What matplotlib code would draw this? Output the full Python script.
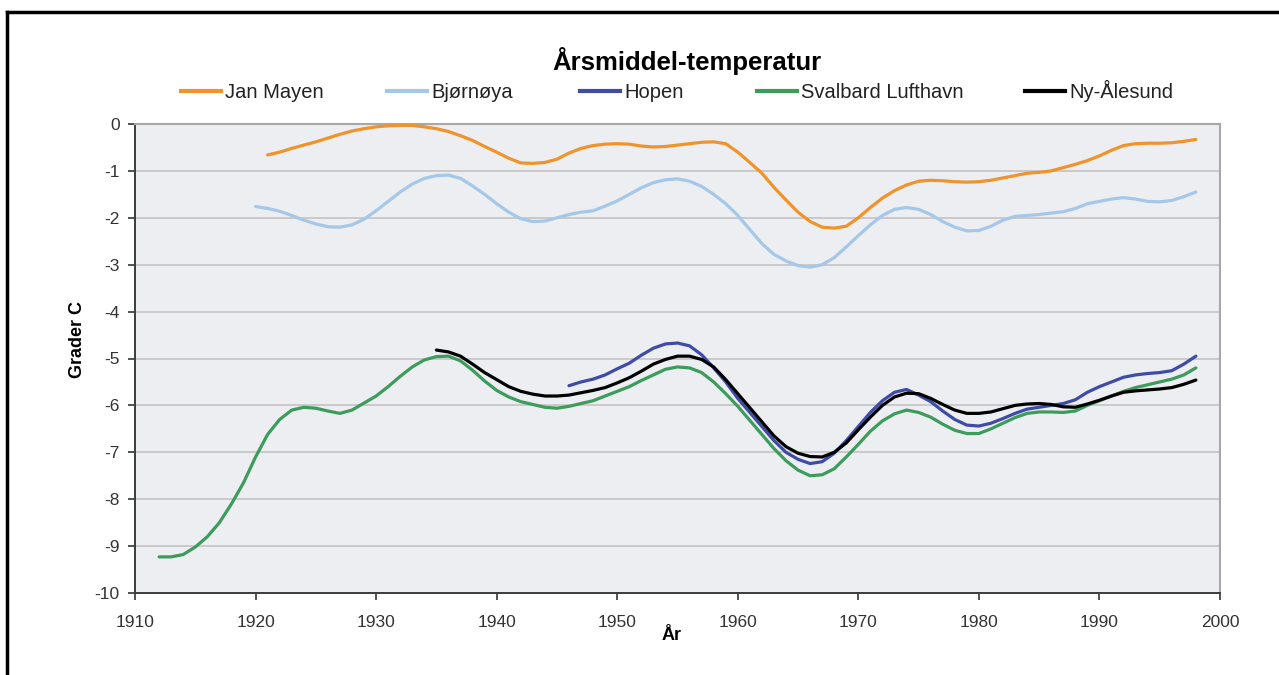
import matplotlib
matplotlib.use("Agg")
import matplotlib.pyplot as plt
from matplotlib.lines import Line2D

plt.rcParams['font.family'] = ['Liberation Sans', 'DejaVu Sans']

title = "Årsmiddel-temperatur"
xlabel = "År"
ylabel = "Grader C"
series_names = ["Jan Mayen", "Bjørnøya", "Hopen", "Svalbard Lufthavn", "Ny-Ålesund"]

jan_mayen_years = list(range(1921, 1999))
jan_mayen = [-0.66, -0.60, -0.52, -0.45, -0.38, -0.30, -0.22, -0.15, -0.10, -0.06,
             -0.04, -0.03, -0.03, -0.06, -0.10, -0.16, -0.25, -0.35, -0.48, -0.60,
             -0.73, -0.83, -0.84, -0.82, -0.75, -0.62, -0.52, -0.46, -0.43, -0.42,
             -0.43, -0.47, -0.49, -0.48, -0.45, -0.42, -0.39, -0.38, -0.42, -0.60,
             -0.82, -1.05, -1.35, -1.62, -1.88, -2.08, -2.20, -2.22, -2.18, -2.00,
             -1.78, -1.58, -1.42, -1.30, -1.22, -1.20, -1.21, -1.23, -1.24, -1.23,
             -1.20, -1.15, -1.10, -1.05, -1.03, -1.00, -0.93, -0.86, -0.78, -0.68,
             -0.56, -0.46, -0.42, -0.41, -0.41, -0.40, -0.37, -0.33]

bjornoya_years = list(range(1920, 1999))
bjornoya = [-1.76, -1.80, -1.86, -1.95, -2.05, -2.13, -2.19, -2.20, -2.15, -2.03,
            -1.85, -1.65, -1.45, -1.28, -1.16, -1.10, -1.09, -1.16, -1.32, -1.50,
            -1.70, -1.88, -2.02, -2.08, -2.07, -2.00, -1.93, -1.88, -1.85, -1.75,
            -1.64, -1.50, -1.36, -1.25, -1.19, -1.17, -1.22, -1.33, -1.50, -1.70,
            -1.95, -2.25, -2.55, -2.78, -2.92, -3.02, -3.05, -3.00, -2.85, -2.62,
            -2.38, -2.15, -1.95, -1.82, -1.78, -1.82, -1.93, -2.08, -2.20, -2.28,
            -2.27, -2.18, -2.05, -1.97, -1.95, -1.93, -1.90, -1.87, -1.80, -1.70,
            -1.65, -1.60, -1.57, -1.60, -1.65, -1.66, -1.63, -1.55, -1.45]

hopen_years = list(range(1946, 1999))
hopen = [-5.58, -5.50, -5.44, -5.35, -5.22, -5.10, -4.93, -4.78, -4.69, -4.67,
         -4.73, -4.92, -5.20, -5.50, -5.85, -6.15, -6.45, -6.75, -7.00, -7.15,
         -7.24, -7.20, -7.02, -6.75, -6.45, -6.15, -5.90, -5.72, -5.66, -5.78,
         -5.92, -6.12, -6.30, -6.42, -6.44, -6.38, -6.28, -6.17, -6.08, -6.04,
         -6.00, -5.96, -5.88, -5.72, -5.60, -5.50, -5.40, -5.35, -5.32, -5.30,
         -5.26, -5.12, -4.95]

svalbard_years = list(range(1912, 1999))
svalbard = [-9.23, -9.23, -9.18, -9.02, -8.80, -8.50, -8.10, -7.65, -7.10, -6.62,
            -6.30, -6.10, -6.04, -6.06, -6.12, -6.17, -6.10, -5.95, -5.80, -5.60,
            -5.38, -5.18, -5.03, -4.96, -4.95, -5.05, -5.25, -5.48, -5.68, -5.82,
            -5.92, -5.98, -6.04, -6.06, -6.02, -5.96, -5.90, -5.80, -5.70, -5.60,
            -5.47, -5.35, -5.23, -5.18, -5.20, -5.30, -5.50, -5.75, -6.02, -6.32,
            -6.62, -6.92, -7.18, -7.38, -7.50, -7.48, -7.35, -7.10, -6.83, -6.55,
            -6.33, -6.18, -6.10, -6.15, -6.25, -6.40, -6.53, -6.60, -6.60, -6.50,
            -6.38, -6.26, -6.17, -6.14, -6.14, -6.15, -6.12, -6.00, -5.90, -5.80,
            -5.70, -5.62, -5.56, -5.50, -5.44, -5.35, -5.20]

ny_alesund_years = list(range(1935, 1999))
ny_alesund = [-4.82, -4.86, -4.95, -5.12, -5.30, -5.45, -5.60, -5.70, -5.76, -5.80,
              -5.80, -5.78, -5.73, -5.68, -5.62, -5.52, -5.41, -5.27, -5.12, -5.02,
              -4.95, -4.95, -5.02, -5.18, -5.45, -5.75, -6.05, -6.35, -6.65, -6.88,
              -7.02, -7.09, -7.10, -7.00, -6.80, -6.52, -6.25, -6.00, -5.82, -5.74,
              -5.75, -5.85, -5.98, -6.10, -6.17, -6.17, -6.14, -6.07, -6.00, -5.97,
              -5.96, -5.98, -6.03, -6.04, -5.97, -5.89, -5.80, -5.72, -5.69, -5.67,
              -5.65, -5.62, -5.55, -5.46]

x_ticks = [1910, 1920, 1930, 1940, 1950, 1960, 1970, 1980, 1990, 2000]
y_ticks = [0, -1, -2, -3, -4, -5, -6, -7, -8, -9, -10]

colors = ["#f0932b", "#a5c8e8", "#3f4ca6", "#3d9b5c", "#000000"]

W, H = 1279, 675
fig = plt.figure(figsize=(W / 100, H / 100), dpi=100)
fig.patch.set_facecolor("white")

ax_l, ax_r, ax_t, ax_b = 135, 1220, 124, 593
ax = fig.add_axes([ax_l / W, 1 - ax_b / H, (ax_r - ax_l) / W, (ax_b - ax_t) / H])
ax.set_facecolor("#eceef1")

data = [(jan_mayen_years, jan_mayen), (bjornoya_years, bjornoya),
        (hopen_years, hopen), (svalbard_years, svalbard),
        (ny_alesund_years, ny_alesund)]
lines = []
for (xs, ys), c, name in zip(data, colors, series_names):
    ln, = ax.plot(xs, ys, color=c, lw=2.3, solid_capstyle="round", label=name, zorder=3)
    lines.append(ln)

ax.set_xlim(1910, 2000)
ax.set_ylim(-10, 0)
ax.set_xticks(x_ticks)
ax.set_yticks(y_ticks)
ax.set_xticklabels([str(t) for t in x_ticks])
ax.set_yticklabels([str(t) for t in y_ticks])
ax.tick_params(axis="both", labelsize=12.5, colors="#333333", length=5, width=1.2,
               direction="out")
ax.tick_params(axis="x", pad=11)
ax.tick_params(axis="y", pad=6)
ax.grid(axis="y", color="#c9c6c6", lw=1.3, zorder=1)
ax.set_axisbelow(True)
for side in ["left", "bottom"]:
    ax.spines[side].set_color("#3c3c3c")
    ax.spines[side].set_linewidth(1.4)
ax.spines["top"].set_color("#a8a8a8")
ax.spines["top"].set_linewidth(1.5)
ax.spines["right"].set_color("#a8a8a8")
ax.spines["right"].set_linewidth(1.5)

fig.text(687 / W, 1 - 61 / H, title, ha="center", va="center",
         fontsize=18.5, fontweight="bold")
fig.text(672 / W, 1 - 636 / H, xlabel, ha="center", va="center",
         fontsize=13, fontweight="bold")
fig.text(77 / W, 1 - 340 / H, ylabel, ha="center", va="center",
         fontsize=13, fontweight="bold", rotation=90)

legend_x = [181, 387, 580, 757, 1025]
legend_y = [93, 93, 93, 93, 91]
for ln, name, lx, ly in zip(lines, series_names, legend_x, legend_y):
    leg = fig.legend([Line2D([], [], color=ln.get_color(), lw=3)], [name],
                     loc="center left", bbox_to_anchor=(lx / W, 1 - ly / H),
                     frameon=False, fontsize=14.5, handlelength=2.0,
                     handletextpad=0.2, borderpad=0, borderaxespad=0)
    for t in leg.get_texts():
        t.set_color("#222222")

fig.add_artist(Line2D([7 / W, 7 / W], [0, 1 - 12 / H], color="black", lw=2.5,
                      transform=fig.transFigure))
fig.add_artist(Line2D([7 / W, 1], [1 - 12 / H, 1 - 12 / H], color="black", lw=2.5,
                      transform=fig.transFigure))

fig.savefig("out.png", dpi=100, facecolor="white")
